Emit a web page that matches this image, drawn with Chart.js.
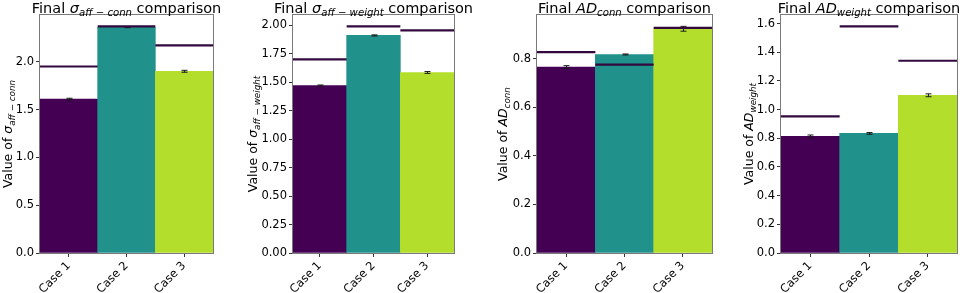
<!DOCTYPE html>
<html><head><meta charset="utf-8">
<script src="https://cdn.jsdelivr.net/npm/chart.js@4.4.1/dist/chart.umd.min.js"></script>
<style>
html,body{margin:0;padding:0;background:#fff;width:964px;height:293px;overflow:hidden;}
canvas{position:absolute;top:0;}
</style></head><body>
<canvas id="c0"></canvas><canvas id="c1"></canvas><canvas id="c2"></canvas><canvas id="c3"></canvas>
<script>
// ---- data ----
const categories = ['Case 1', 'Case 2', 'Case 3'];

const sigmaConnValues = [1.61, 2.36, 1.90];
const sigmaConnErrors = [0.008, 0.004, 0.010];
const sigmaConnReference = [1.95, 2.37, 2.17];

const sigmaWeightValues = [1.47, 1.91, 1.585];
const sigmaWeightErrors = [0.005, 0.005, 0.008];
const sigmaWeightReference = [1.70, 1.99, 1.955];

const adConnValues = [0.766, 0.818, 0.924];
const adConnErrors = [0.006, 0.002, 0.010];
const adConnReference = [0.828, 0.776, 0.928];

const adWeightValues = [0.813, 0.834, 1.100];
const adWeightErrors = [0.010, 0.006, 0.010];
const adWeightReference = [0.953, 1.581, 1.341];

const tickSteps = [0.5, 0.25, 0.2, 0.2];
const tickDecimals = [1, 2, 1, 1];

// ---- styles / layout ----
const barColors = ['#440154', '#21918c', '#b4de2c'];
const refLineColor = '#32083f';
const FAM = '"DejaVu Sans", "Liberation Sans", sans-serif';

const panels = [
  {values: sigmaConnValues, errors: sigmaConnErrors, ref: sigmaConnReference,
   sym: 'σ', sub: 'aff − conn', left: 0, width: 243, axisW: 40, padR: 30, labelX: 12},
  {values: sigmaWeightValues, errors: sigmaWeightErrors, ref: sigmaWeightReference,
   sym: 'σ', sub: 'aff − weight', left: 245, width: 239, axisW: 48, padR: 30, labelX: 12},
  {values: adConnValues, errors: adConnErrors, ref: adConnReference,
   sym: 'AD', sub: 'conn', left: 490, width: 252, axisW: 47, padR: 30, labelX: 17},
  {values: adWeightValues, errors: adWeightErrors, ref: adWeightReference,
   sym: 'AD', sub: 'weight', left: 735, width: 229, axisW: 46, padR: 7, labelX: 18}
];

function drawRich(ctx, parts, x, y, size, center) {
  const fontOf = p => (p.it ? 'italic ' : '') + (p.sub ? size * 0.7 : size) + 'px ' + FAM;
  let total = 0;
  const widths = parts.map(p => { ctx.font = fontOf(p); const w = ctx.measureText(p.t).width; total += w; return w; });
  let cx = center ? x - total / 2 : x;
  ctx.textAlign = 'left';
  ctx.textBaseline = 'alphabetic';
  parts.forEach((p, i) => {
    ctx.font = fontOf(p);
    ctx.fillText(p.t, cx, y + (p.sub ? size * 0.24 : 0));
    cx += widths[i];
  });
}

const overlayPlugin = {
  id: 'overlay',
  afterDatasetsDraw(chart, args, opts) {
    const p = opts.panel;
    const ctx = chart.ctx, xs = chart.scales.x, ys = chart.scales.y;
    const half = (xs.getPixelForValue(1) - xs.getPixelForValue(0)) / 2;
    ctx.save();
    ctx.strokeStyle = '#1a1a1a';
    ctx.lineWidth = 1;
    p.values.forEach((v, i) => {
      const x = Math.round(xs.getPixelForValue(i)) + 0.5;
      const y1 = ys.getPixelForValue(v - p.errors[i]);
      const y2 = ys.getPixelForValue(v + p.errors[i]);
      ctx.beginPath();
      ctx.moveTo(x, y1); ctx.lineTo(x, y2);
      ctx.moveTo(x - 3, y1); ctx.lineTo(x + 3, y1);
      ctx.moveTo(x - 3, y2); ctx.lineTo(x + 3, y2);
      ctx.stroke();
    });
    ctx.strokeStyle = refLineColor;
    ctx.lineWidth = 2.2;
    p.ref.forEach((r, i) => {
      const x = xs.getPixelForValue(i);
      const y = ys.getPixelForValue(r);
      ctx.beginPath();
      ctx.moveTo(x - half, y); ctx.lineTo(x + half, y);
      ctx.stroke();
    });
    ctx.restore();
  },
  afterDraw(chart, args, opts) {
    const p = opts.panel;
    const ctx = chart.ctx, a = chart.chartArea;
    ctx.save();
    ctx.strokeStyle = '#7a7a7a';
    ctx.lineWidth = 1;
    ctx.strokeRect(Math.round(a.left) - 0.5, Math.round(a.top) - 0.5,
                   Math.round(a.right - a.left) + 1, Math.round(a.bottom - a.top) + 1);
    ctx.fillStyle = '#000';
    drawRich(ctx, [{t: 'Final '}, {t: p.sym, it: true}, {t: p.sub, it: true, sub: true}, {t: ' comparison'}],
             (a.left + a.right) / 2, 13, 14.5, true);
    ctx.save();
    ctx.translate(p.labelX, (a.top + a.bottom) / 2);
    ctx.rotate(-Math.PI / 2);
    drawRich(ctx, [{t: 'Value of '}, {t: p.sym, it: true}, {t: p.sub, it: true, sub: true}], 0, 0, 12.5, true);
    ctx.restore();
    ctx.restore();
  }
};

panels.forEach((p, k) => {
  const cv = document.getElementById('c' + k);
  cv.width = p.width; cv.height = 293;
  cv.style.left = p.left + 'px';
  cv.style.width = p.width + 'px'; cv.style.height = '293px';
  const ymax = Math.max(...p.ref, ...p.values.map((v, i) => v + p.errors[i])) * 1.05;
  const tickFont = {family: FAM, size: 11.5};
  new Chart(cv, {
    type: 'bar',
    data: {labels: categories, datasets: [{
      data: p.values, backgroundColor: barColors, borderWidth: 0,
      categoryPercentage: 1, barPercentage: 1
    }]},
    options: {
      responsive: false, animation: false, devicePixelRatio: 1,
      layout: {padding: {top: 15, right: p.padR, left: 0, bottom: 0}},
      plugins: {legend: {display: false}, tooltip: {enabled: false}, title: {display: false},
                overlay: {panel: p}},
      scales: {
        x: {
          offset: true,
          grid: {display: true, offset: false, drawOnChartArea: false, drawTicks: true, tickLength: 4, color: '#333'},
          border: {display: false},
          ticks: {maxRotation: 45, minRotation: 45, font: tickFont, color: '#000', padding: 2, autoSkip: false},
          afterFit(s) { s.height = 40; }
        },
        y: {
          min: 0, max: ymax,
          grid: {display: true, drawOnChartArea: false, drawTicks: true, tickLength: 4, color: '#333'},
          border: {display: false},
          ticks: {stepSize: tickSteps[k], includeBounds: false, font: tickFont, color: '#000', padding: 2,
                  callback: v => Number(v).toFixed(tickDecimals[k])},
          afterFit(s) { s.width = p.axisW; }
        }
      }
    },
    plugins: [overlayPlugin]
  });
});
</script>
</body></html>
